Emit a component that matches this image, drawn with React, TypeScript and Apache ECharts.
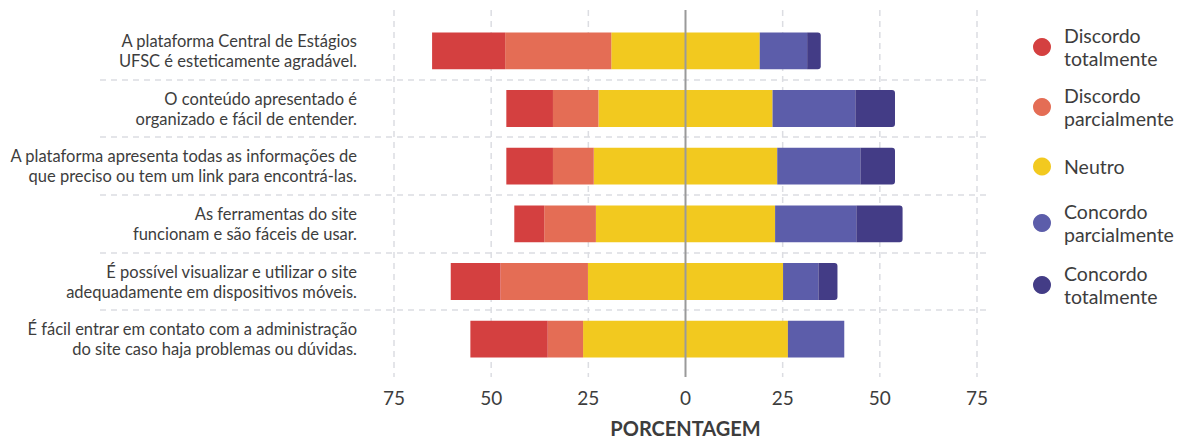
import React, { useEffect, useRef } from "react";
import * as echarts from "echarts";

const categories = [
  "A plataforma Central de Estágios\nUFSC é esteticamente agradável.",
  "O conteúdo apresentado é\norganizado e fácil de entender.",
  "A plataforma apresenta todas as informações de\nque preciso ou tem um link para encontrá-las.",
  "As ferramentas do site\nfuncionam e são fáceis de usar.",
  "É possível visualizar e utilizar o site\nadequadamente em dispositivos móveis.",
  "É fácil entrar em contato com a administração\ndo site caso haja problemas ou dúvidas.",
];

const discordoTotalmente = [18.8, 12.0, 12.0, 7.7, 12.8, 19.9];
const discordoParcialmente = [27.3, 11.7, 10.5, 13.3, 22.5, 9.1];
const neutro = [38.2, 44.8, 47.2, 46.1, 50.2, 52.7];
const concordoParcialmente = [12.2, 21.3, 21.4, 20.9, 9.1, 14.5];
const concordoTotalmente = [3.5, 10.2, 8.9, 11.9, 4.9, 0];

const xTicks = [-75, -50, -25, 0, 25, 50, 75];

const legendNames = [
  "Discordo totalmente",
  "Discordo parcialmente",
  "Neutro",
  "Concordo parcialmente",
  "Concordo totalmente",
];

const COLORS = {
  dt: "#d44040",
  dp: "#e46d55",
  n: "#f2c91f",
  cp: "#5c5daa",
  ct: "#433c86",
};

const FONT = "Lato, 'Open Sans', sans-serif";
const TEXT = "#3d3d3d";

export default function App() {
  const ref = useRef<HTMLDivElement>(null);

  useEffect(() => {
    document.body.style.margin = "0";
    if (!ref.current) return;
    const chart = echarts.init(ref.current, undefined, { renderer: "svg" });

    const neg = (arr: number[]) => arr.map((v) => -v);
    const half = (arr: number[], sign: number) => arr.map((v) => (sign * v) / 2);

    const barCommon = {
      type: "bar",
      stack: "total",
      barWidth: "64%",
      emphasis: { disabled: true },
    };

    const legendTops = [24, 84, 155, 200, 262];

    const gridTop = 22;
    const gridBottom = 73;
    const gridLeft = 394;
    const gridRight = 211;

    chart.setOption({
      animation: false,
      textStyle: { fontFamily: FONT },
      grid: {
        left: gridLeft,
        right: gridRight,
        top: gridTop,
        bottom: gridBottom,
        containLabel: false,
        outerBoundsMode: "none",
      },
      legend: legendNames.map((name, i) => ({
        data: [name],
        orient: "vertical",
        left: 1033,
        top: legendTops[i],
        padding: 0,
        icon: "circle",
        itemWidth: 18,
        itemHeight: 18,
        selectedMode: false,
        formatter: (n: string) => n.replace(" ", "\n"),
        textStyle: {
          fontFamily: FONT,
          fontSize: 19.5,
          lineHeight: 23,
          color: TEXT,
          padding: [0, 0, 0, 8],
        },
      })),
      xAxis: {
        type: "value",
        min: -75,
        max: 75,
        interval: 25,
        axisLine: { show: false },
        axisTick: { show: false },
        splitLine: { show: false },
        axisLabel: {
          formatter: (v: number) => String(Math.abs(v)),
          fontSize: 19,
          color: TEXT,
          margin: 20,
          fontFamily: FONT,
        },
        name: "PORCENTAGEM",
        nameLocation: "middle",
        nameGap: 50,
        nameTextStyle: {
          fontSize: 20,
          fontWeight: "bold",
          color: TEXT,
          fontFamily: FONT,
        },
      },
      yAxis: {
        type: "category",
        data: categories,
        inverse: true,
        axisLine: { show: false },
        axisTick: { show: false },
        splitLine: { show: false },
        axisLabel: {
          fontSize: 16.5,
          lineHeight: 20,
          color: TEXT,
          margin: 37,
          align: "right",
          fontFamily: FONT,
        },
      },
      series: [
        { ...barCommon, name: "Neutro", data: half(neutro, -1), itemStyle: { color: COLORS.n } },
        { ...barCommon, name: "Discordo parcialmente", data: neg(discordoParcialmente), itemStyle: { color: COLORS.dp } },
        { ...barCommon, name: "Discordo totalmente", data: neg(discordoTotalmente), itemStyle: { color: COLORS.dt } },
        { ...barCommon, name: "Neutro", data: half(neutro, 1), itemStyle: { color: COLORS.n } },
        { ...barCommon, name: "Concordo parcialmente", data: concordoParcialmente, itemStyle: { color: COLORS.cp } },
        {
          ...barCommon,
          name: "Concordo totalmente",
          data: concordoTotalmente,
          itemStyle: { color: COLORS.ct, borderRadius: [0, 3, 3, 0] },
        },
      ],
    });

    // Grid lines drawn from the axes' own scales
    const h = 441;
    const yTopGrid = gridTop - 12;
    const yBottomGrid = h - gridBottom + 9;
    const elements: any[] = [];
    xTicks.forEach((v) => {
      const x = chart.convertToPixel({ xAxisIndex: 0 }, v) as number;
      if (v === 0) {
        elements.push({
          type: "line",
          z: 100,
          shape: { x1: x, y1: yTopGrid, x2: x, y2: yBottomGrid },
          style: { stroke: "#9a9a9a", lineWidth: 2 },
        });
      } else {
        elements.push({
          type: "line",
          z: -10,
          shape: { x1: x, y1: yTopGrid, x2: x, y2: yBottomGrid },
          style: { stroke: "#dcdde2", lineWidth: 1.5, lineDash: [6, 5] },
        });
      }
    });
    const xRight = (chart.convertToPixel({ xAxisIndex: 0 }, 75) as number) + 13;
    for (let i = 0; i < categories.length - 1; i++) {
      const y1 = chart.convertToPixel({ yAxisIndex: 0 }, i) as number;
      const y2 = chart.convertToPixel({ yAxisIndex: 0 }, i + 1) as number;
      const y = Math.round((y1 + y2) / 2);
      elements.push({
        type: "line",
        z: -10,
        shape: { x1: 100, y1: y, x2: xRight, y2: y },
        style: { stroke: "#dcdde2", lineWidth: 1.5, lineDash: [6, 5] },
      });
    }
    chart.setOption({ graphic: { elements } });

    return () => chart.dispose();
  }, []);

  return <div ref={ref} style={{ width: 1188, height: 441 }} />;
}
